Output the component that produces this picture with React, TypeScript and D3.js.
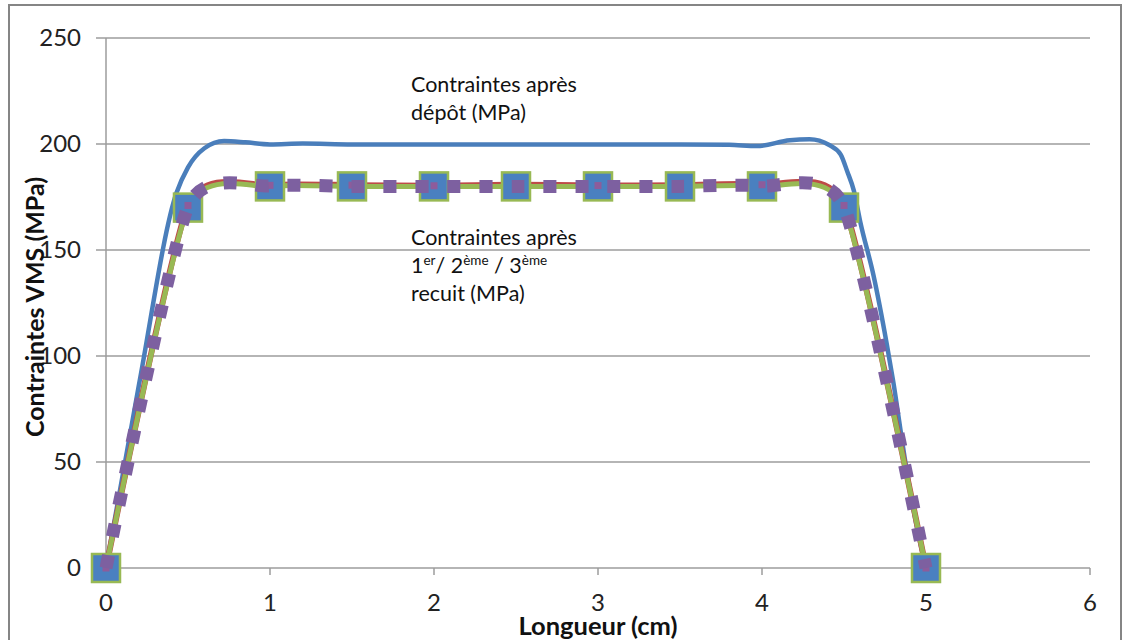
import React from "react";
import * as d3 from "d3";

// ---- data ----
const xTicks = [0, 1, 2, 3, 4, 5, 6];
const yTicks = [0, 50, 100, 150, 200, 250];

// Contraintes après dépôt (blue, smooth)
const depotX = [0, 0.2, 0.43, 0.5, 0.6, 0.72, 0.85, 1.0, 1.2, 1.5, 2, 2.5, 3, 3.5, 3.8, 3.97, 4.17, 4.29, 4.41, 4.48, 4.52, 4.56, 4.6, 4.68, 4.76, 4.8, 4.87, 4.94, 5];
const depotY = [0, 86, 177, 189, 198, 201.4, 200.8, 199.8, 200.2, 199.8, 199.8, 199.8, 199.8, 199.8, 199.6, 199, 201.8, 202.2, 199.5, 195, 187, 178, 163, 138, 106, 88, 52, 21, 0];

// Contraintes après recuits (1er / 2ème / 3ème)
const recuitX = [0, 0.5, 1, 1.5, 2, 2.5, 3, 3.5, 4, 4.5, 5];
const recuit1Y = [0, 170, 180, 180, 180, 180, 180, 180, 180, 170, 0];
const recuit2Y = [0, 171, 180.5, 180.6, 180.3, 180.8, 180.4, 180.6, 180.8, 171, 0];
const recuit3Y = [0, 170.5, 180.2, 180, 180, 180, 180, 180, 180.2, 170.5, 0];

const FONT = "Lato, 'Open Sans', sans-serif";

export default function App() {
  const W = 1123;
  const H = 640;
  const x = d3.scaleLinear().domain([0, 6]).range([106, 1090]);
  const y = d3.scaleLinear().domain([0, 250]).range([568, 38]);

  const mkLine = (xs: number[], curve: any) =>
    d3
      .line<number>()
      .x((_, i) => x(xs[i]))
      .y((d) => y(d))
      .curve(curve);

  const depotPath = mkLine(depotX, d3.curveMonotoneX)(depotY) || "";
  const smooth = d3.curveCardinal.tension(0.4);
  const r1 = mkLine(recuitX, smooth)(recuit1Y) || "";
  const r2 = mkLine(recuitX, smooth)(recuit2Y) || "";
  const r3 = mkLine(recuitX, smooth)(recuit3Y) || "";

  const grid = "#9c9c9c";
  const big = 28;
  const small = 7;

  return (
    <svg
      width={W}
      height={H}
      style={{ position: "absolute", left: 0, top: 0, background: "#fff" }}
    >
      <rect x={0} y={0} width={W} height={H} fill="#fff" />
      {/* outer frame */}
      <rect x={9} y={5} width={1112} height={H + 10} fill="none" stroke="#858585" strokeWidth={2} />

      {/* gridlines & y ticks */}
      {yTicks.map((t) => (
        <g key={"gy" + t}>
          <line x1={96} x2={x(6)} y1={y(t)} y2={y(t)} stroke={grid} strokeWidth={1.5} />
          <text
            x={81}
            y={y(t)}
            dy="0.35em"
            textAnchor="end"
            fontFamily={FONT}
            fontSize={24}
            fill="#222"
          >
            {t}
          </text>
        </g>
      ))}
      {/* y axis */}
      <line x1={x(0)} x2={x(0)} y1={y(250)} y2={y(0)} stroke={grid} strokeWidth={1.5} />
      {/* x ticks */}
      {xTicks.map((t) => (
        <g key={"gx" + t}>
          <line x1={x(t)} x2={x(t)} y1={y(0)} y2={y(0) + 7} stroke={grid} strokeWidth={1.5} />
          <text
            x={x(t)}
            y={611}
            textAnchor="middle"
            fontFamily={FONT}
            fontSize={24}
            fill="#222"
          >
            {t}
          </text>
        </g>
      ))}

      {/* axis titles */}
      <text
        x={x(3)}
        y={635}
        textAnchor="middle"
        fontFamily={FONT}
        fontWeight="bold"
        fontSize={25.5}
        fill="#111"
      >
        Longueur (cm)
      </text>
      <text
        transform={`translate(44,${(y(0) + y(250)) / 2 + 4}) rotate(-90)`}
        textAnchor="middle"
        fontFamily={FONT}
        fontWeight="bold"
        fontSize={25}
        fill="#111"
      >
        Contraintes VMS (MPa)
      </text>

      {/* series */}
      <path d={depotPath} fill="none" stroke="#4a7ebb" strokeWidth={4.5} />
      <path d={r2} fill="none" stroke="#be4b48" strokeWidth={6} />
      <path d={r1} fill="none" stroke="#98b954" strokeWidth={5} />
      {recuitX.map((xv, i) => (
        <rect
          key={"m" + i}
          x={x(xv) - big / 2}
          y={y(recuit1Y[i]) - big / 2}
          width={big}
          height={big}
          fill="#4a80c0"
          stroke="#98b954"
          strokeWidth={2.5}
        />
      ))}
      {recuitX.map((xv, i) => (
        <rect
          key={"s" + i}
          x={x(xv) - small / 2}
          y={y(recuit2Y[i]) - small / 2}
          width={small}
          height={small}
          fill="#a4508f"
          opacity={0.75}
        />
      ))}
      <path
        d={r3}
        fill="none"
        stroke="#7d60a0"
        strokeWidth={13}
        strokeDasharray="13 19"
      />

      {/* annotations */}
      <text fontFamily={FONT} fontSize={21.5} fill="#111">
        <tspan x={411} y={92}>Contraintes après</tspan>
        <tspan x={411} y={120}>dépôt (MPa)</tspan>
      </text>
      <text fontFamily={FONT} fontSize={21.5} fill="#111">
        <tspan x={411} y={245}>Contraintes après</tspan>
        <tspan x={411} y={273}>1</tspan>
        <tspan fontSize={13.5} dy={-8}>er</tspan>
        <tspan dy={8}>/ 2</tspan>
        <tspan fontSize={13.5} dy={-8}>ème</tspan>
        <tspan dy={8}> / 3</tspan>
        <tspan fontSize={13.5} dy={-8}>ème</tspan>
        <tspan x={411} y={301}>recuit (MPa)</tspan>
      </text>
    </svg>
  );
}
